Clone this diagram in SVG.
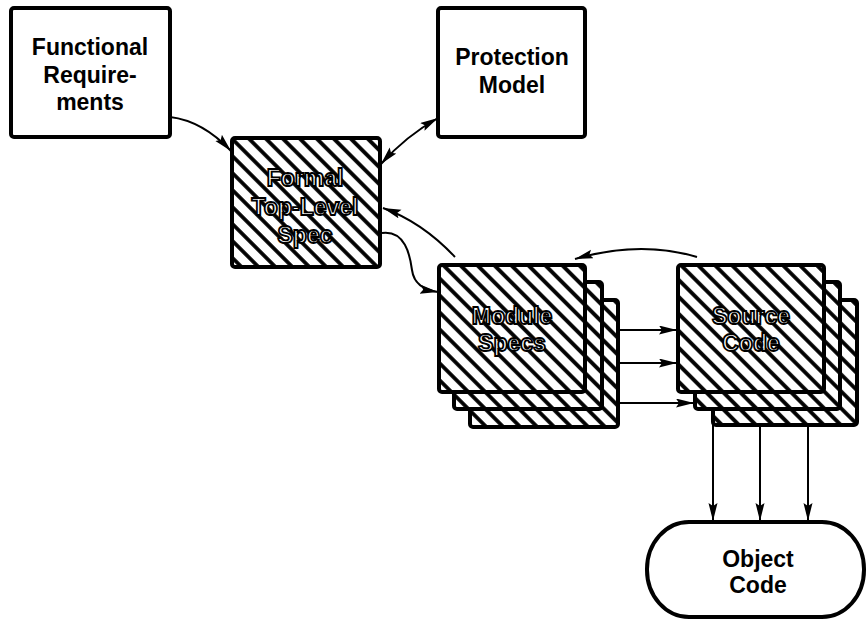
<svg xmlns="http://www.w3.org/2000/svg" width="866" height="620" viewBox="0 0 866 620">
<style>
.box{fill:#fff;stroke:#000;stroke-width:4;stroke-linejoin:round}
.hb{fill:url(#hatch);stroke:#000;stroke-width:4;stroke-linejoin:round}
.t{font-family:"Liberation Sans",Arial,sans-serif;font-weight:bold;font-size:23px;fill:#000;text-anchor:middle}
.ht{font-family:"Liberation Sans",Arial,sans-serif;font-weight:bold;font-size:23px;fill:#fff;stroke:#000;stroke-width:1.8;text-anchor:middle}
.c{fill:none;stroke:#000;stroke-width:2}
</style>
<defs>
<pattern id="hatch" patternUnits="userSpaceOnUse" width="12" height="12" patternTransform="rotate(-45)">
<rect width="12" height="12" fill="#fff"/>
<line x1="6" y1="0" x2="6" y2="12" stroke="#000" stroke-width="3.8"/>
</pattern>
<marker id="ah" markerUnits="userSpaceOnUse" markerWidth="20" markerHeight="10" refX="18" refY="4.5" orient="auto-start-reverse">
<path d="M0,0 L18,4.5 L0,9 L3,4.5 Z" fill="#000"/>
</marker>
</defs>

<g id="functional-requirements">
<rect class="box" x="11" y="8" width="159" height="129" rx="3"/>
<text class="t" x="90" y="55">Functional</text>
<text class="t" x="90" y="83">Require-</text>
<text class="t" x="90" y="110">ments</text>
</g>

<g id="protection-model">
<rect class="box" x="438" y="8" width="147" height="129" rx="3"/>
<text class="t" x="512" y="65" font-size="22">Protection</text>
<text class="t" x="512" y="93" font-size="22">Model</text>
</g>

<g id="formal-top-level-spec">
<rect class="hb" x="232" y="138" width="148" height="129" rx="3"/>
<text class="ht" x="305" y="186">Formal</text>
<text class="ht" x="305" y="215">Top-Level</text>
<text class="ht" x="305" y="243">Spec</text>
</g>

<g id="module-specs">
<rect class="hb" x="470" y="300" width="148" height="127" rx="3"/>
<rect class="hb" x="454" y="282" width="148" height="127" rx="3"/>
<rect class="hb" x="439" y="265" width="146" height="127" rx="3"/>
<text class="ht" x="512" y="324">Module</text>
<text class="ht" x="512" y="351">Specs</text>
</g>

<g id="source-code">
<rect class="hb" x="713" y="300" width="144" height="125" rx="3"/>
<rect class="hb" x="695" y="282" width="145" height="127" rx="3"/>
<rect class="hb" x="678" y="265" width="146" height="127" rx="3"/>
<text class="ht" x="751" y="324">Source</text>
<text class="ht" x="751" y="351">Code</text>
</g>

<g id="object-code">
<rect class="box" x="647" y="522" width="217" height="95" rx="42" ry="47"/>
<text class="t" x="758" y="567">Object</text>
<text class="t" x="758" y="593">Code</text>
</g>

<g id="connectors">
<path class="c" d="M170,117 C195,120 215,134 231,151" marker-end="url(#ah)"/>
<path class="c" d="M438,118 Q406,136 381,164" marker-start="url(#ah)" marker-end="url(#ah)"/>
<path class="c" d="M455,257 Q422,222 383,208" marker-end="url(#ah)"/>
<path class="c" d="M382,233 C405,230 410,255 412,270 C414,285 425,290 438,292" marker-end="url(#ah)"/>
<path class="c" d="M697,257 Q640,240 575,259" marker-end="url(#ah)"/>
<path class="c" d="M618,330 H677" marker-end="url(#ah)"/>
<path class="c" d="M618,363 H677" marker-end="url(#ah)"/>
<path class="c" d="M618,403 H694" marker-end="url(#ah)"/>
<path class="c" d="M713,425 V521" marker-end="url(#ah)"/>
<path class="c" d="M760,425 V521" marker-end="url(#ah)"/>
<path class="c" d="M808,425 V521" marker-end="url(#ah)"/>
</g>
</svg>
